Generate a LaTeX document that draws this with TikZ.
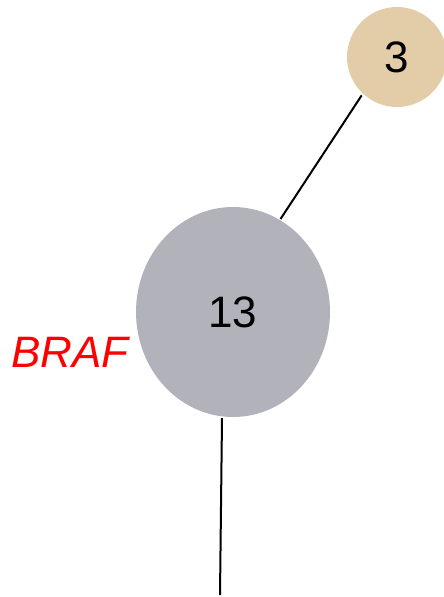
\documentclass[tikz,border=0pt]{standalone}
\usepackage{fontspec}
\setmainfont{Liberation Sans}
\usetikzlibrary{shapes.geometric}
\definecolor{tanc}{HTML}{E3CDA8}
\definecolor{grayc}{HTML}{B1B2BA}
\begin{document}
\begin{tikzpicture}[x=1pt,y=-1pt,
  link/.style={draw=black,line width=2pt},
  lbl/.style={font=\fontsize{44}{44}\selectfont}]
\useasboundingbox (0,0) rectangle (444,597);
\node[circle,fill=tanc,minimum size=100pt,inner sep=0pt,lbl] (n3) at (397,57) {\raisebox{-2pt}{3}};
\node[ellipse,fill=grayc,minimum width=194pt,minimum height=210pt,inner sep=0pt,lbl] (n13) at (233,312) {\raisebox{-2pt}{13}};
\node[text=red,font=\fontsize{44}{44}\selectfont\itshape,anchor=east,inner sep=0pt] (braf) at (129,352) {BRAF};
\coordinate (endb) at (220,595);
\draw[link,shorten <=2pt,shorten >=1pt] (n3.227) -- (n13.63);
\draw[link] (n13.south) ++(-11,1) coordinate (s13) -- (endb);
\end{tikzpicture}
\end{document}
